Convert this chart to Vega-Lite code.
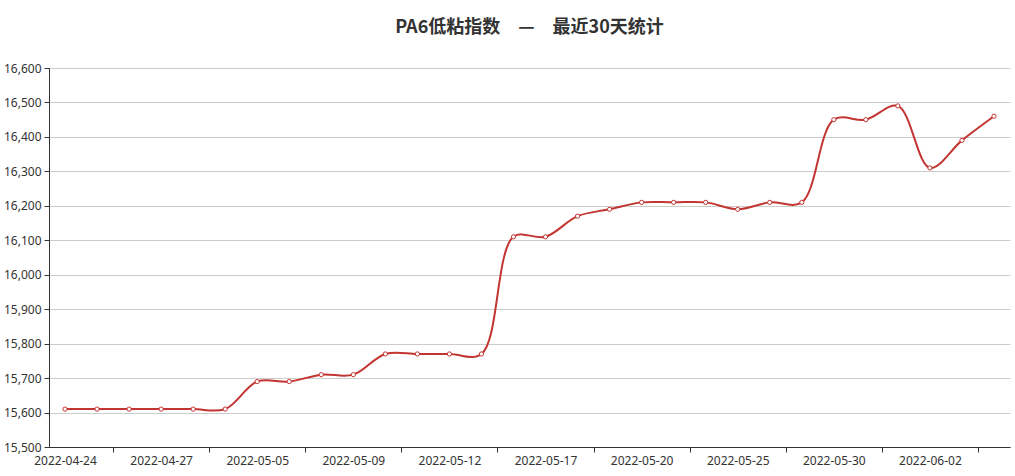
{
  "$schema": "https://vega.github.io/schema/vega-lite/v6.json",
  "autosize": "none",
  "width": 961,
  "height": 379,
  "padding": {"left": 49, "top": 68, "right": 5, "bottom": 29},
  "background": "white",
  "title": {
    "text": "PA6低粘指数　—　最近30天统计",
    "font": "Noto Sans CJK SC",
    "fontSize": 18,
    "fontWeight": "bold",
    "color": "#333333",
    "anchor": "middle",
    "offset": 25
  },
  "config": {
    "view": {"stroke": null},
    "axis": {
      "labelFont": "Noto Sans",
      "labelFontSize": 12,
      "labelColor": "#333333",
      "domainColor": "#333333",
      "tickColor": "#333333",
      "tickSize": 5,
      "title": null
    }
  },
  "data": {
    "values": [
      {"date": "2022-04-24", "price": 15610},
      {"date": "2022-04-25", "price": 15610},
      {"date": "2022-04-26", "price": 15610},
      {"date": "2022-04-27", "price": 15610},
      {"date": "2022-04-28", "price": 15610},
      {"date": "2022-04-29", "price": 15610},
      {"date": "2022-05-05", "price": 15690},
      {"date": "2022-05-06", "price": 15690},
      {"date": "2022-05-07", "price": 15710},
      {"date": "2022-05-09", "price": 15710},
      {"date": "2022-05-10", "price": 15770},
      {"date": "2022-05-11", "price": 15770},
      {"date": "2022-05-12", "price": 15770},
      {"date": "2022-05-13", "price": 15770},
      {"date": "2022-05-16", "price": 16110},
      {"date": "2022-05-17", "price": 16110},
      {"date": "2022-05-18", "price": 16170},
      {"date": "2022-05-19", "price": 16190},
      {"date": "2022-05-20", "price": 16210},
      {"date": "2022-05-23", "price": 16210},
      {"date": "2022-05-24", "price": 16210},
      {"date": "2022-05-25", "price": 16190},
      {"date": "2022-05-26", "price": 16210},
      {"date": "2022-05-27", "price": 16210},
      {"date": "2022-05-30", "price": 16450},
      {"date": "2022-05-31", "price": 16450},
      {"date": "2022-06-01", "price": 16490},
      {"date": "2022-06-02", "price": 16310},
      {"date": "2022-06-06", "price": 16390},
      {"date": "2022-06-07", "price": 16460}
    ]
  },
  "encoding": {
    "x": {
      "field": "date",
      "type": "ordinal",
      "sort": null,
      "scale": {"type": "point", "padding": 0.5},
      "axis": {
        "values": ["2022-04-24", "2022-04-27", "2022-05-05", "2022-05-09", "2022-05-12", "2022-05-17", "2022-05-20", "2022-05-25", "2022-05-30", "2022-06-02"],
        "labelAngle": 0,
        "tickOffset": 48,
        "labelOffset": -48,
        "labelPadding": 3,
        "grid": false
      }
    },
    "y": {
      "field": "price",
      "type": "quantitative",
      "scale": {"domain": [15500, 16600], "nice": false, "zero": false},
      "axis": {
        "values": [15500, 15600, 15700, 15800, 15900, 16000, 16100, 16200, 16300, 16400, 16500, 16600],
        "format": ",.0f",
        "grid": true,
        "gridColor": "#cccccc",
        "labelPadding": 3
      }
    }
  },
  "layer": [
    {
      "mark": {"type": "line", "interpolate": "catmull-rom", "color": "#c23531", "strokeWidth": 2}
    },
    {
      "mark": {"type": "point", "shape": "circle", "filled": true, "fill": "white", "stroke": "#c23531", "strokeWidth": 1, "size": 18, "opacity": 1}
    }
  ]
}
